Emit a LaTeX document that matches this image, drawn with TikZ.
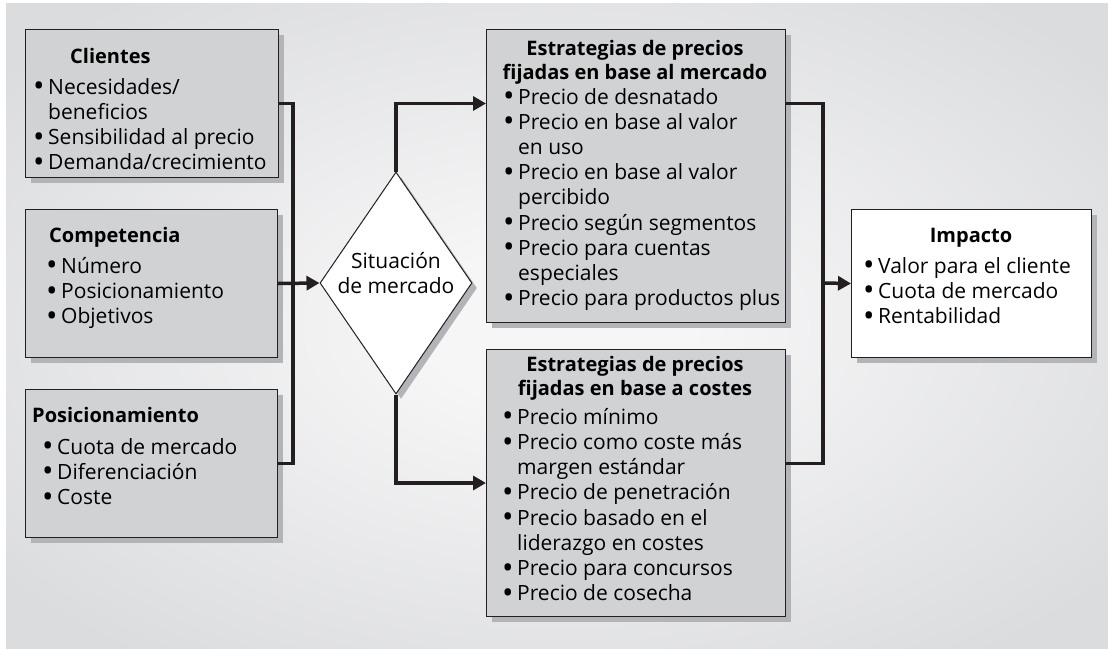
\documentclass[tikz,border=0pt]{standalone}
\usepackage{fontspec}
\setmainfont{Open Sans}
\usetikzlibrary{arrows.meta,shapes.geometric,shadows,positioning}
\definecolor{bglight}{HTML}{F6F6F7}
\definecolor{bgdark}{HTML}{DBDCDE}
\definecolor{boxgray}{HTML}{D1D2D4}
\definecolor{shadowgray}{HTML}{B2B4B7}
\definecolor{inkline}{HTML}{231F20}
\pgfdeclareradialshading{bgshade}{\pgfpoint{0bp}{0bp}}{color(0bp)=(bglight); color(6bp)=(bglight); color(32bp)=(bgdark); color(50bp)=(bgdark)}
\newcommand{\bitem}{\makebox[15pt][l]{\smash{\raisebox{-2.6pt}{\scalebox{1.45}{\textbullet}}}}}
\newcommand{\bcont}{\hspace*{15pt}}
\tikzset{
  panel/.style={draw=inkline, line width=1pt, fill=boxgray, anchor=north west, inner sep=0pt,
    drop shadow={shadow xshift=5pt, shadow yshift=-5pt, fill=shadowgray, opacity=1}},
  whitepanel/.style={panel, fill=white},
  heading/.style={font=\bfseries\fontsize{20}{24}\selectfont, inner sep=0pt, align=center},
  items/.style={font=\fontsize{21}{25.2}\selectfont, inner sep=0pt, align=left, anchor=north west},
  bus/.style={line width=3.5pt, draw=inkline},
  conn/.style={bus, -{Triangle[length=13pt, width=14pt]}}
}
\begin{document}
\begin{tikzpicture}[x=1pt, y=-1pt]
\useasboundingbox (0,0) rectangle (1108,648);
\shade[shading=bgshade] (6,3) rectangle (1108,648);
% left column
\node[panel, minimum width=253pt, minimum height=148pt] (cli) at (25,29) {};
\node[heading, anchor=base west] (cli-title) at (70,63) {Clientes};
\node[items] (cli-list) at (33,78) {\bitem Necesidades/\\ \bcont beneficios\\ \bitem Sensibilidad al precio\\ \bitem Demanda/crecimiento};
\node[panel, minimum width=252pt, minimum height=148pt] (comp) at (25,209) {};
\node[heading, anchor=base west] (comp-title) at (49,242) {Competencia};
\node[items] (comp-list) at (46,257) {\bitem Número\\ \bitem Posicionamiento\\ \bitem Objetivos};
\node[panel, minimum width=252pt, minimum height=148pt] (pos) at (25,389) {};
\node[heading, anchor=base west] (pos-title) at (32,422) {Posicionamiento};
\node[items] (pos-list) at (42,438) {\bitem Cuota de mercado\\ \bitem Diferenciación\\ \bitem Coste};
% decision
\node[diamond, draw=inkline, line width=1pt, fill=white, inner sep=0pt,
  minimum width=152pt, minimum height=222pt,
  drop shadow={shadow xshift=5pt, shadow yshift=-5pt, fill=shadowgray, opacity=1}] (sit) at (396,283) {};
\node[font=\fontsize{21}{25.2}\selectfont, align=center, inner sep=0pt] (sit-label) at (396,273) {Situación\\de mercado};
% strategies
\node[panel, minimum width=299pt, minimum height=293pt] (mkt) at (486,29) {};
\node[heading, anchor=north] (mkt-title) at (635,40) {Estrategias de precios\\fijadas en base al mercado};
\node[items] (mkt-list) at (503,88) {\bitem Precio de desnatado\\ \bitem Precio en base al valor\\ \bcont en uso\\ \bitem Precio en base al valor\\ \bcont percibido\\ \bitem Precio según segmentos\\ \bitem Precio para cuentas\\ \bcont especiales\\ \bitem Precio para productos plus};
\node[panel, minimum width=299pt, minimum height=267pt] (cost) at (486,349) {};
\node[heading, anchor=north] (cost-title) at (635,356) {Estrategias de precios\\fijadas en base a costes};
\node[items] (cost-list) at (502,408) {\bitem Precio mínimo\\ \bitem Precio como coste más\\ \bcont margen estándar\\ \bitem Precio de penetración\\ \bitem Precio basado en el\\ \bcont liderazgo en costes\\ \bitem Precio para concursos\\ \bitem Precio de cosecha};
% result
\node[whitepanel, minimum width=240pt, minimum height=148pt] (imp) at (851,209) {};
\node[heading, anchor=base] (imp-title) at (971,242) {Impacto};
\node[items] (imp-list) at (863,257) {\bitem Valor para el cliente\\ \bitem Cuota de mercado\\ \bitem Rentabilidad};
% connectors
\coordinate (rbus) at (822,283);
\draw[bus] (cli.east) -- ++(14,0) |- (pos.east);
\draw[conn] (comp.east) -- (sit.west);
\draw[conn] (sit.north) |- (cli.east -| mkt.west);
\draw[conn] (sit.south) |- (cost.west);
\draw[bus] (mkt.east |- cli.east) -- ++(37,0) |- (cost.east |- pos.east);
\draw[conn] (rbus) -- (imp.west);
\end{tikzpicture}
\end{document}
